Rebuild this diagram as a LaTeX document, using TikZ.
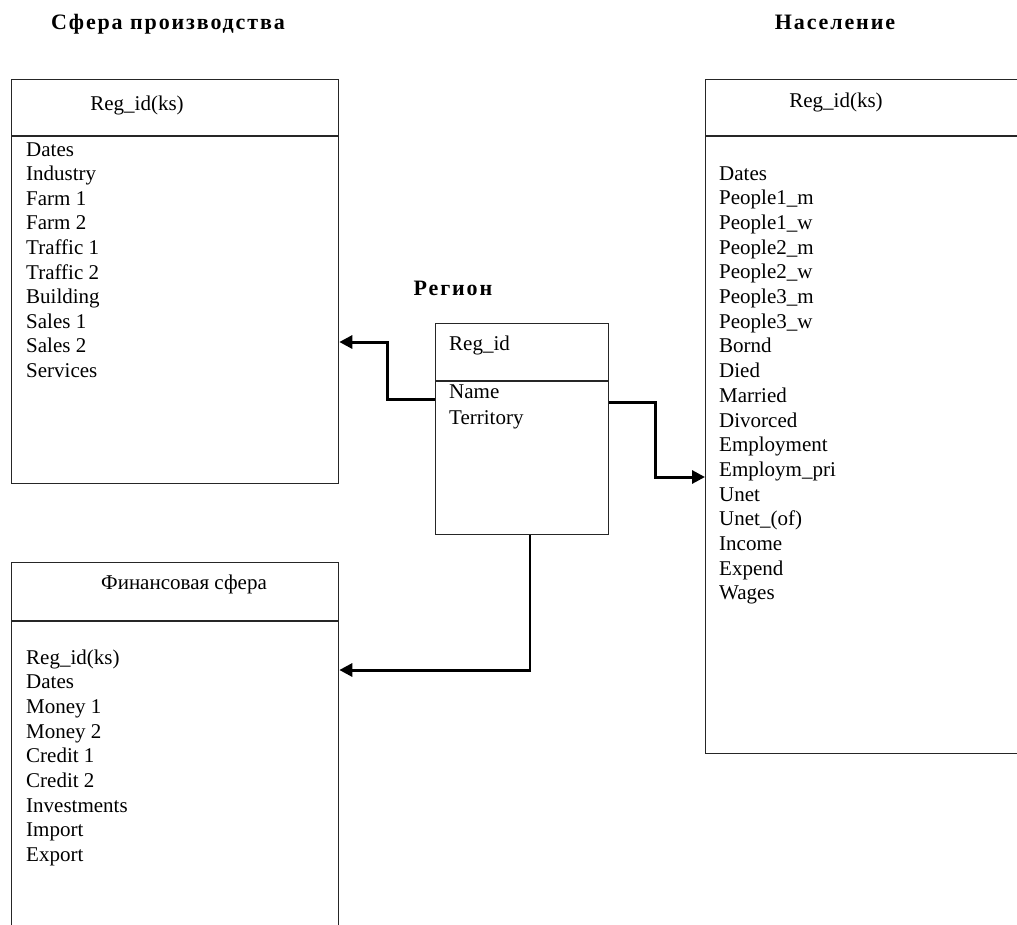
\documentclass[tikz,border=0pt]{standalone}
\usepackage{fontspec}
\setmainfont{Liberation Serif}
\newfontfamily\titlefont[LetterSpace=8.5]{Liberation Serif}
\usetikzlibrary{arrows.meta}
\begin{document}
\begin{tikzpicture}[x=1pt,y=-1pt,
  box/.style={draw=black!85, line width=1.3pt, rectangle, inner sep=0pt, anchor=north west},
  divider/.style={draw=black!85, line width=1.3pt},
  txt/.style={inner sep=0pt, font=\fontsize{21}{24.7}\selectfont},
  field/.style={txt, anchor=base west},
  head/.style={txt, anchor=base},
  title/.style={inner sep=0pt, anchor=base, font=\titlefont\fontsize{22}{24}\selectfont\bfseries},
  conn/.style={draw=black, line width=3pt, -{Triangle[length=13pt,width=13pt]}},
  thinconn/.style={draw=black, line width=2pt}
]
\useasboundingbox (0,0) rectangle (1017,924);
\clip (0,0) rectangle (1017,924);

% titles
\node[title] (t1) at (168,29) {Сфера производства};
\node[title] (t2) at (835,29) {Население};
\node[title] (t3) at (453,295) {Регион};

% boxes
\node[box, minimum width=327pt, minimum height=404pt] (A) at (11,79) {};
\node[box, minimum width=327pt, minimum height=400pt] (F) at (11,562) {};
\node[box, minimum width=360pt, minimum height=674pt] (P) at (705,79) {};
\node[box, minimum width=173pt, minimum height=211pt] (R) at (435,323) {};

% dividers
\draw[divider] (11,136) -- (338,136);
\draw[divider] (11,621) -- (338,621);
\draw[divider] (705,136) -- (1030,136);
\draw[divider] (435,381) -- (608,381);

% headers
\node[head] (hA) at (137,110) {Reg\_id(ks)};
\node[head] (hF) at (184,589) {Финансовая сфера};
\node[head] (hP) at (836,107) {Reg\_id(ks)};
\node[field] (hR) at (449,350) {Reg\_id};

% fields
\foreach \t [count=\i] in {Dates,Industry,Farm 1,Farm 2,Traffic 1,Traffic 2,Building,Sales 1,Sales 2,Services}
  \node[field] (a\i) at (26,156+24.6*\i-24.6) {\t};
\foreach \t [count=\i] in {Reg\_id(ks),Dates,Money 1,Money 2,Credit 1,Credit 2,Investments,Import,Export}
  \node[field] (f\i) at (26,664+24.7*\i-24.7) {\t};
\foreach \t [count=\i] in {Dates,People1\_m,People1\_w,People2\_m,People2\_w,People3\_m,People3\_w,Bornd,Died,Married,Divorced,Employment,Employm\_pri,Unet,Unet\_(of),Income,Expend,Wages}
  \node[field] (p\i) at (719,180+24.7*\i-24.7) {\t};
\node[field] (r1) at (449,398) {Name};
\node[field] (r2) at (449,424) {Territory};

% connectors
\draw[conn] (R.west |- 0,399) -- (387,399) |- (A.east |- 0,342);
\draw[conn] (R.east |- 0,402) -- (655,402) |- (P.west |- 0,477);
\coordinate (c1) at (530,670);
\draw[thinconn] (R.south -| c1) -- (c1);
\draw[conn] ([xshift=1pt]c1) -- (F.east |- c1);
\end{tikzpicture}
\end{document}
